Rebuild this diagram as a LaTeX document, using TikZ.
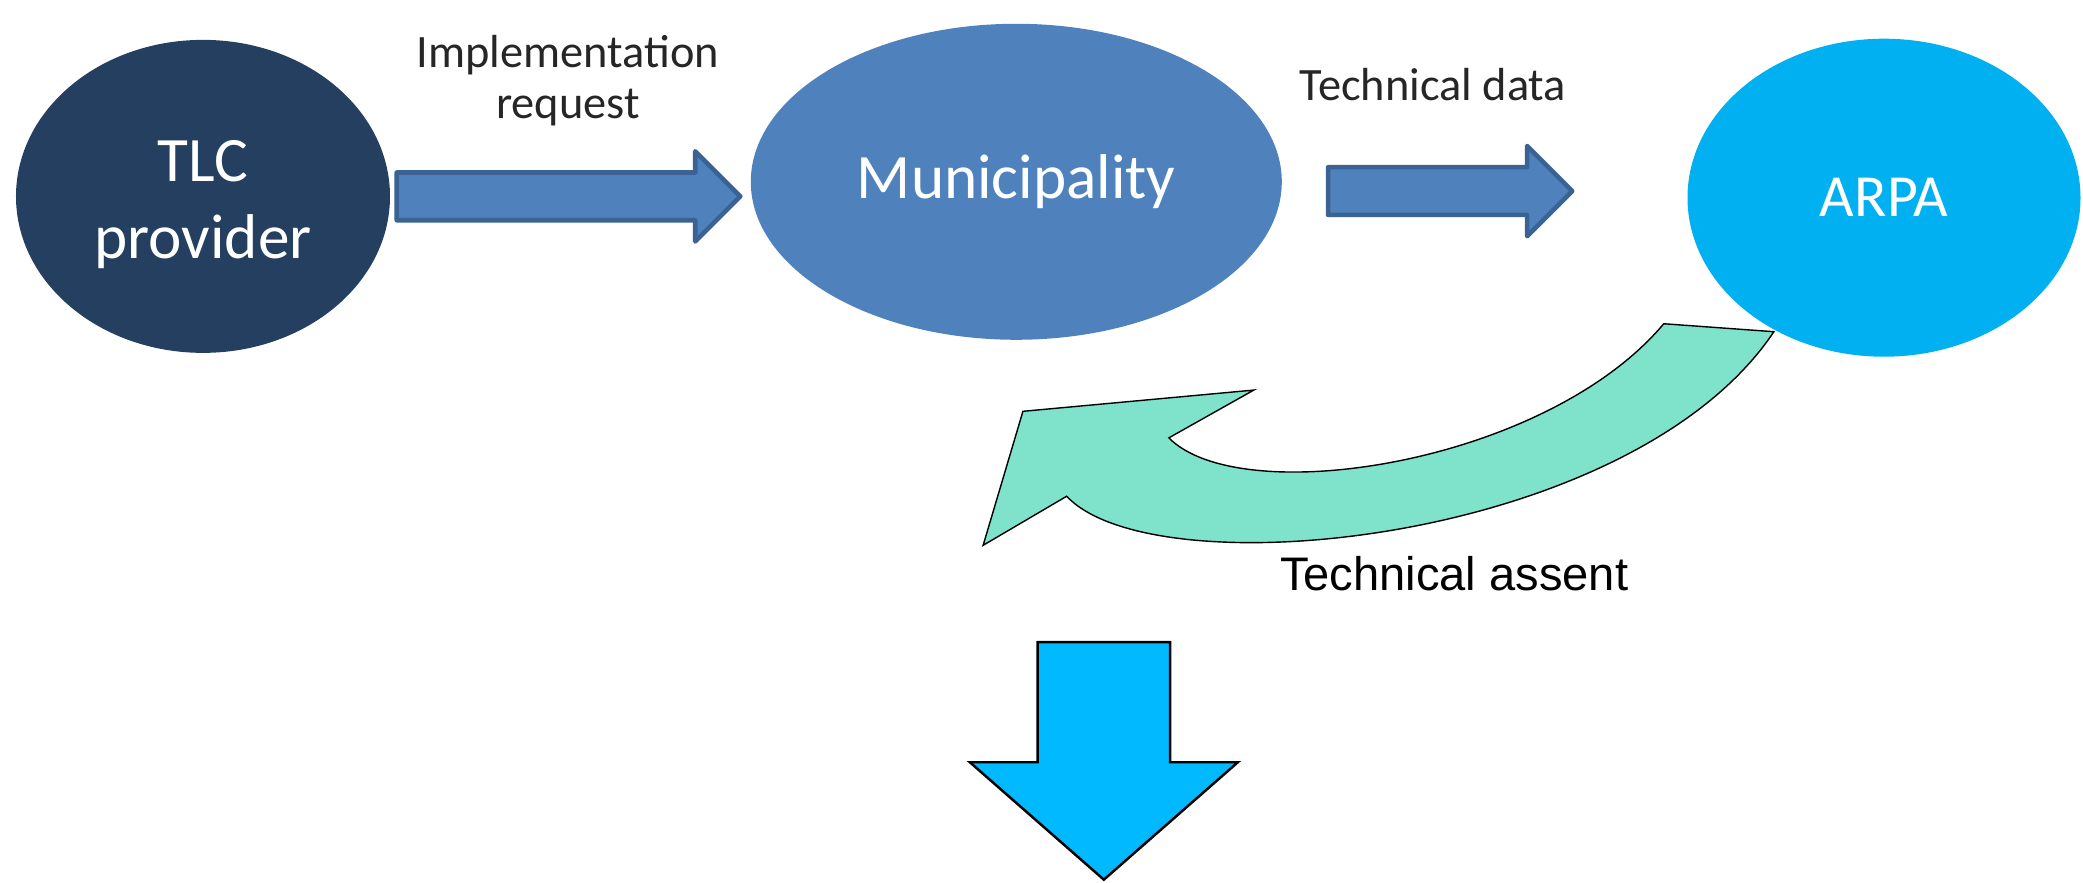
\documentclass[tikz,border=0pt]{standalone}
\usepackage{fontspec}
\setmainfont{Carlito}
\newfontfamily\arialfont{Liberation Sans}
\usetikzlibrary{shapes.geometric}
\usetikzlibrary{positioning}
\definecolor{tlcnavy}{HTML}{243F60}
\definecolor{munblue}{HTML}{4F81BD}
\definecolor{munedge}{HTML}{3A6394}
\definecolor{arpablue}{HTML}{00B0F0}
\definecolor{assentmint}{HTML}{7FE3CC}
\definecolor{downblue}{HTML}{00B9FF}
\definecolor{lblgray}{HTML}{262626}

\begin{document}
\begin{tikzpicture}[x=0.13268mm,y=-0.13268mm,
	entity/.style={ellipse,inner sep=0pt,text=white,align=center,
		font=\fontsize{18}{22}\selectfont},
	lbl/.style={text=lblgray,align=center,font=\fontsize{13.2}{14.5}\selectfont},
	flowarrow/.style={fill=munblue,draw=munedge,line width=1.3pt,line join=round},
	assent/.style={fill=assentmint,draw=black,line width=0.4pt},
	outarrow/.style={fill=downblue,draw=black,line width=0.7pt}]
		\useasboundingbox (0,0) rectangle (1570,664.8);
		\def\sh{18}% shaft half height
		\def\hh{34}% head half height
		% soggetti
		\node[entity,fill=tlcnavy,minimum width=37.4mm,minimum height=31.3mm] (tlc) at (153,148) {};
		\node[text=white,align=center,font=\fontsize{18}{22}\selectfont] (tlctext) at (153,154) {TLC\\provider};
		\node[entity,fill=munblue,minimum width=53.1mm,minimum height=31.6mm] (mun) at (766,137) {Municipality};
		\node[entity,fill=arpablue,minimum width=39.3mm,minimum height=31.8mm,
			font=\fontsize{17}{19}\selectfont] (arpa) at (1420,149) {ARPA};
		% etichette
		\node[lbl] (req) at (428,61) {Implementation\\request};
		\node[lbl] (data) at (1080,64) {Technical data};
		\node[text=black,font=\arialfont\fontsize{13.4}{15}\selectfont] (ok) at (1096,432) {Technical assent};
		% frecce
		\draw[flowarrow] (299,148-\sh) -- (524,148-\sh) -- (524,148-\hh) -- (558,148)
			-- (524,148+\hh) -- (524,148+\sh) -- (299,148+\sh) -- cycle;
		\draw[flowarrow] (1001,144-\sh) -- (1151,144-\sh) -- (1151,144-\hh) -- (1185,144)
			-- (1151,144+\hh) -- (1151,144+\sh) -- (1001,144+\sh) -- cycle;
		\draw[assent] (1254,244) .. controls (1165,350) and (935,385) .. (881,330)
			-- (945,294) -- (771,310) -- (741,411) -- (804,374)
			.. controls (870,445) and (1230,410) .. (1337,250) -- cycle;
		\draw[outarrow] (782,484) -- (882,484) -- (882,574.5) -- (933,574.5) -- (832,663)
			-- (731,574.5) -- (782,574.5) -- cycle;
	\end{tikzpicture}
\end{document}
